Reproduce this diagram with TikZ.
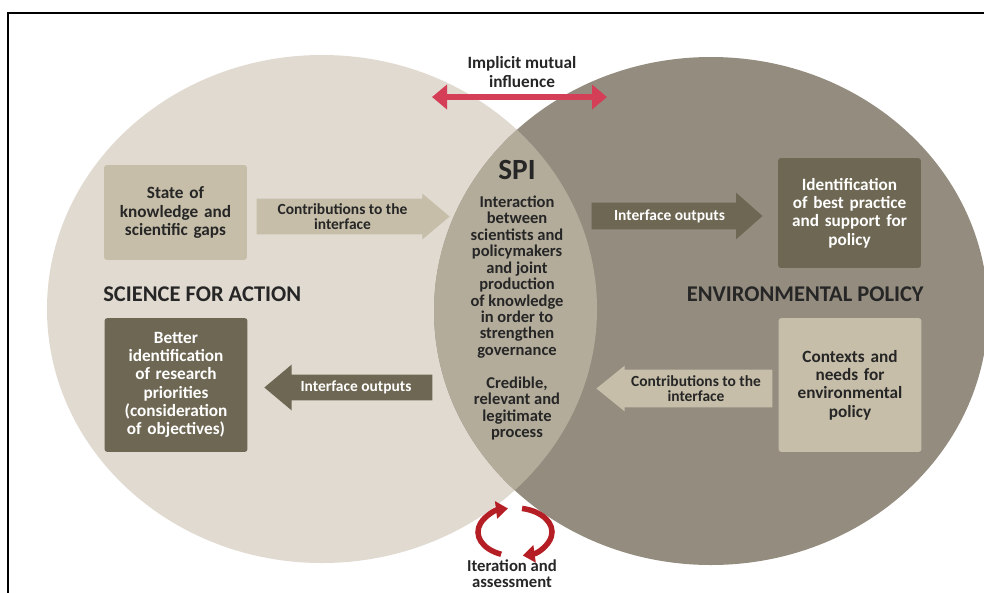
\documentclass[tikz,border=0pt]{standalone}
\usepackage{fontspec}
\setmainfont{Carlito}
\usetikzlibrary{positioning,shapes.arrows,arrows.meta}
\definecolor{scibg}{HTML}{E0DAD0}
\definecolor{polbg}{HTML}{938C7F}
\definecolor{spibg}{HTML}{B3AC9B}
\definecolor{lightfill}{HTML}{C6BEA9}
\definecolor{darkfill}{HTML}{6E6753}
\definecolor{txt}{HTML}{262626}
\definecolor{inflred}{HTML}{D43F57}
\definecolor{iterred}{HTML}{B41E24}
\tikzset{
  lbox/.style={rectangle, rounded corners=0.6mm, minimum width=28.6mm, text width=27mm, align=center, inner sep=0pt, fill=lightfill, text=txt, font=\fontsize{9.8}{10.4}\selectfont\bfseries},
  dbox/.style={lbox, fill=darkfill, text=white},
  larrow/.style={single arrow, fill=lightfill, inner sep=0pt},
  darrow/.style={larrow, fill=darkfill},
  atext/.style={align=center, inner sep=0pt, text=txt, font=\fontsize{8.8}{8.2}\selectfont\bfseries},
  dtext/.style={atext, text=white},
  fieldtitle/.style={inner sep=0pt, text=txt, font=\fontsize{12.8}{14}\selectfont\bfseries},
  spititle/.style={inner sep=0pt, text=txt, font=\fontsize{16.7}{18}\selectfont\bfseries},
  spitext/.style={align=center, inner sep=0pt, text=txt, font=\fontsize{9.4}{9.35}\selectfont\bfseries},
  note/.style={align=center, inner sep=0pt, text=txt, font=\fontsize{9.8}{10.6}\selectfont\bfseries},
  mutual/.style={{Triangle[length=3mm, width=4.8mm]}-{Triangle[length=3mm, width=4.8mm]}, line width=1.2mm, inflred},
  iterarrow/.style={-{Triangle[length=2.4mm, width=3.4mm]}, line width=1.1mm, iterred}
}
\begin{document}
\begin{tikzpicture}[x=0.02cm, y=-0.02cm]
  \useasboundingbox (0,0) rectangle (984,592);
  \draw[line width=1.1pt] (8,13) rectangle (1010,620);
  % the two fields and the interface between them
  \fill[scibg] (322,309) ellipse[x radius=275, y radius=254];
  \fill[polbg] (711,311) ellipse[x radius=277, y radius=254];
  \begin{scope}
    \clip (322,309) ellipse[x radius=275, y radius=254];
    \fill[spibg] (711,311) ellipse[x radius=277, y radius=254];
  \end{scope}

  \node[note] (infl) at (522,72) {Implicit mutual\\influence};
  \coordinate (inflL) at (432,97);
  \coordinate (inflR) at (607,97);
  \draw[mutual] (inflL) -- (inflR);

  \node[spititle] (spi) at (517,170) {SPI};
  \node[spitext] (spibody) at (517,318) {Interaction\\between\\scientists and\\policymakers\\and joint\\production\\of knowledge\\in order to\\strengthen\\governance\\[9.35pt]Credible,\\relevant and\\legitimate\\process};

  \node[fieldtitle, anchor=west] (sfa) at (103,294) {SCIENCE FOR ACTION};
  \node[fieldtitle, anchor=east] (env) at (924,294) {ENVIRONMENTAL POLICY};

  \node[lbox, minimum height=19mm] (know) at (175.5,212.5) {State of\\knowledge and\\scientific gaps};
  \node[dbox, minimum height=22mm] (best) at (849.5,213) {Identification\\of best practice\\and support for\\policy};
  \node[dbox, minimum height=26.8mm] (prio) at (176,385) {Better\\identification\\of research\\priorities\\(consideration\\of objectives)};
  \node[lbox, minimum height=26.8mm] (ctx) at (850,385) {Contexts and\\needs for\\environmental\\policy};

  \node[larrow, inner xsep=17.1mm, inner ysep=3.5mm, single arrow head extend=1mm, single arrow tip angle=80] (contribL) at (342.5,216.5) {};
  \node[atext] (contribLtext) at (contribL) {Contributions to the\\interface};
  \node[darrow, inner xsep=15.5mm, inner ysep=2.6mm, single arrow head extend=2mm, single arrow tip angle=83] (outR) at (669.5,216) {};
  \node[dtext] (outRtext) at (outR) {Interface outputs};
  \node[darrow, shape border rotate=180, inner xsep=15.2mm, inner ysep=2.5mm, single arrow head extend=2mm, single arrow tip angle=80] (outL) at (356,387.5) {};
  \node[dtext] (outLtext) at (outL) {Interface outputs};
  \node[larrow, shape border rotate=180, inner xsep=15.2mm, inner ysep=3.7mm, single arrow head extend=0.8mm, single arrow tip angle=78] (contribR) at (696,388.5) {};
  \node[atext] (contribRtext) at (contribR) {Contributions to the\\interface};

  % iteration loop
  \coordinate (itc) at (515,532);
  \draw[iterarrow] (itc) ++(112:37 and 24) arc[start angle=112, end angle=259, x radius=37, y radius=24];
  \draw[iterarrow] (itc) ++(281:37 and 24) arc[start angle=281, end angle=438, x radius=37, y radius=24];
  \node[note, anchor=north, font=\fontsize{9.5}{9.3}\selectfont\bfseries] (iter) at (512,559) {Iteration and\\assessment};
\end{tikzpicture}
\end{document}
